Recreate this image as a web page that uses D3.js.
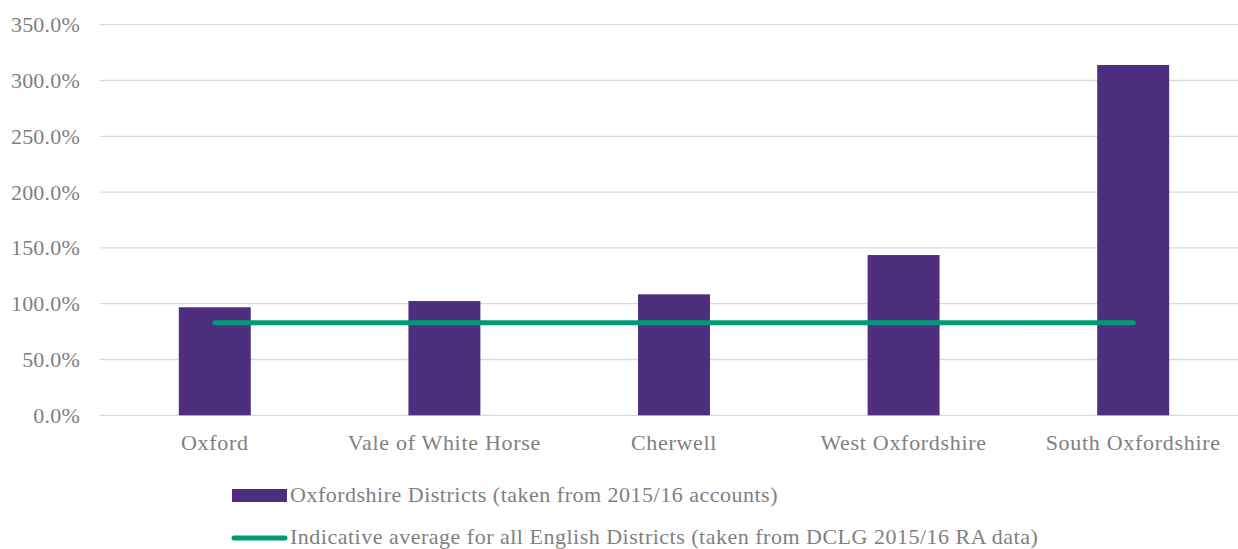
<!DOCTYPE html>
<html>
<head>
<meta charset="utf-8">
<script src="https://cdn.jsdelivr.net/npm/d3@7"></script>
<style>
  html, body { margin: 0; padding: 0; background: #ffffff; }
  svg { display: block; }
  text { font-family: "Liberation Serif", "DejaVu Serif", serif; }
</style>
</head>
<body>
<svg id="chart" width="1238" height="549"></svg>
<script>
// Districts and their ratios (%)
const districts = ["Oxford", "Vale of White Horse", "Cherwell", "West Oxfordshire", "South Oxfordshire"];
const districtValues = [96.8, 102.4, 108.4, 143.6, 313.9];
// Indicative average for all English districts (%)
const englishAverage = [83.0, 83.0, 83.0, 83.0, 83.0];
const yTicks = [0, 50, 100, 150, 200, 250, 300, 350];
const legendLabels = [
  "Oxfordshire Districts (taken from 2015/16 accounts)",
  "Indicative average for all English Districts (taken from DCLG 2015/16 RA data)"
];

const barColor = "#4e2e7e";
const lineColor = "#009a77";
const gridColor = "#d9d9d9";
const textColor = "#808080";

const svg = d3.select("#chart");
const plot = { left: 100, right: 1248, top: 24.7, bottom: 415.3 };

const x = d3.scaleBand()
  .domain(districts)
  .range([plot.left, plot.right])
  .paddingInner(0.6866)
  .paddingOuter(0.3433);

const y = d3.scaleLinear().domain([0, 350]).range([plot.bottom, plot.top]);

// Horizontal gridlines
svg.append("g")
  .selectAll("line")
  .data(yTicks)
  .join("line")
  .attr("x1", plot.left)
  .attr("x2", plot.right)
  .attr("y1", d => y(d))
  .attr("y2", d => y(d))
  .attr("stroke", gridColor)
  .attr("stroke-width", 1.3);

// Y axis labels
const yAxis = d3.axisLeft(y).tickValues(yTicks).tickSize(0).tickPadding(20)
  .tickFormat(d => d3.format(".1f")(d) + "%");
svg.append("g")
  .attr("transform", `translate(${plot.left},0)`)
  .call(yAxis)
  .call(g => g.select(".domain").remove())
  .call(g => g.selectAll("text")
    .attr("fill", textColor)
    .attr("font-size", 22)
    .attr("letter-spacing", 0.2)
    .attr("font-family", "Liberation Serif, serif"));

// Bars
svg.append("g")
  .selectAll("rect")
  .data(districts.map((d, i) => ({ name: d, value: districtValues[i] })))
  .join("rect")
  .attr("x", d => x(d.name))
  .attr("width", x.bandwidth())
  .attr("y", d => y(d.value))
  .attr("height", d => y(0) - y(d.value))
  .attr("fill", barColor);

// X axis labels
const xAxis = d3.axisBottom(x).tickSize(0).tickPadding(19);
svg.append("g")
  .attr("transform", `translate(0,${plot.bottom})`)
  .call(xAxis)
  .call(g => g.select(".domain").remove())
  .call(g => g.selectAll("text")
    .attr("fill", textColor)
    .attr("font-size", 22)
    .attr("letter-spacing", 0.7)
    .attr("font-family", "Liberation Serif, serif"));

// Average line
const line = d3.line()
  .x((d, i) => x(districts[i]) + x.bandwidth() / 2)
  .y(d => y(d));
svg.append("path")
  .datum(englishAverage)
  .attr("d", line)
  .attr("fill", "none")
  .attr("stroke", lineColor)
  .attr("stroke-width", 5)
  .attr("stroke-linecap", "round");

// Legend
const legend = svg.append("g");
legend.append("rect")
  .attr("x", 232).attr("y", 489).attr("width", 55).attr("height", 13)
  .attr("fill", barColor);
legend.append("line")
  .attr("x1", 234).attr("x2", 285).attr("y1", 538).attr("y2", 538)
  .attr("stroke", lineColor).attr("stroke-width", 5).attr("stroke-linecap", "round");
legend.selectAll("text")
  .data(legendLabels)
  .join("text")
  .attr("x", 290)
  .attr("y", (d, i) => 502 + i * 41.5)
  .attr("fill", textColor)
  .attr("font-size", 22)
  .attr("letter-spacing", 0.5)
  .text(d => d);
</script>
</body>
</html>
